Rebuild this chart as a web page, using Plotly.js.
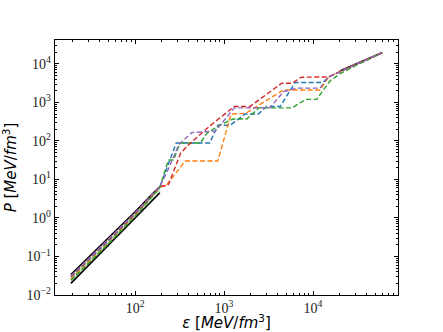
<!DOCTYPE html>
<html>
<head>
<meta charset="utf-8">
<script src="https://cdn.plot.ly/plotly-3.0.1.min.js"></script>
<style>
  html, body { margin: 0; padding: 0; background: #fff; }
  #chart { width: 443px; height: 332px; }
</style>
</head>
<body>
<div id="chart"></div>
<script>
// band edges (black solid lines, low density)
const bandEps   = [19, 30, 50, 100, 150, 190];
const bandUpper = [0.034, 0.095, 0.29, 1.45, 3.8, 6.5];
const bandLower = [0.020, 0.058, 0.19, 0.96, 2.5, 4.5];

// black line at high density
const hiEps = [20000, 30000, 45000, 60000];
const hiP   = [6500, 9800, 14700, 19700];

// dashed EoS curves
const blueEps = [19, 50, 100, 190, 290, 690, 850, 1170, 1730, 2430, 3000, 4270, 6300, 13000, 15000, 20000, 30000, 45000, 60000];
const blueP   = [0.029, 0.25, 1.25, 6.5, 88, 88, 255, 255, 500, 500, 780, 780, 3300, 3300, 4600, 6300, 9600, 14500, 19500];

const orangeEps = [19, 50, 100, 190, 230, 365, 850, 1200, 1750, 4650, 12000, 15000, 20000, 30000, 45000, 60000];
const orangeP   = [0.026, 0.22, 1.15, 6.3, 7.5, 30, 30, 500, 520, 2100, 2100, 4600, 6300, 9600, 14500, 19500];

const greenEps = [19, 50, 100, 190, 237, 270, 320, 540, 645, 900, 1260, 1800, 2450, 5800, 8300, 11000, 15500, 20000, 30000, 45000, 60000];
const greenP   = [0.024, 0.21, 1.1, 6.2, 32, 32, 88, 88, 160, 260, 370, 370, 720, 720, 1200, 1200, 3600, 5500, 9000, 14000, 19300];

const redEps = [19, 50, 100, 190, 235, 325, 400, 700, 1300, 1950, 4450, 5800, 7400, 15000, 20000, 30000, 45000, 60000];
const redP   = [0.030, 0.27, 1.3, 6.5, 7.0, 48, 80, 250, 780, 780, 3150, 3150, 4500, 4600, 6300, 9600, 14500, 19500];

const purpleEps = [19, 50, 100, 190, 240, 310, 435, 800, 1300, 3300, 4650, 6600, 12000, 14800, 20000, 30000, 45000, 60000];
const purpleP   = [0.031, 0.28, 1.35, 6.6, 20, 80, 165, 180, 720, 730, 1900, 2350, 2350, 4500, 6300, 9600, 14500, 19500];

const xTickVals = [100, 1000, 10000];
const xTickText = ["10<sup>2</sup>", "10<sup>3</sup>", "10<sup>4</sup>"];
const yTickVals = [0.01, 0.1, 1, 10, 100, 1000, 10000];
const yTickText = ["10<sup>\u22122</sup>", "10<sup>\u22121</sup>", "10<sup>0</sup>", "10<sup>1</sup>",
                   "10<sup>2</sup>", "10<sup>3</sup>", "10<sup>4</sup>"];

function minorTicks(d0, d1){
    const out = [];
    for(let d = d0; d <= d1; d++)
        for(let k = 2; k <= 9; k++)
            out.push(k * Math.pow(10, d));
    return out;
}

function dashed(x, y, color){
    return {x: x, y: y, type: "scatter", mode: "lines",
            line: {color: color, width: 1.4, dash: "5px,2.5px"}, hoverinfo: "skip"};
}

const traces = [
    {x: bandEps, y: bandLower, type: "scatter", mode: "lines",
     line: {color: "black", width: 1.6}, hoverinfo: "skip"},
    {x: bandEps, y: bandUpper, type: "scatter", mode: "lines", fill: "tonexty",
     fillcolor: "rgba(44,160,44,0.25)", line: {color: "black", width: 1.6}, hoverinfo: "skip"},
    {x: hiEps, y: hiP, type: "scatter", mode: "lines",
     line: {color: "black", width: 1.6}, hoverinfo: "skip"},
    dashed(blueEps, blueP, "#1f77b4"),
    dashed(orangeEps, orangeP, "#ff7f0e"),
    dashed(greenEps, greenP, "#2ca02c"),
    dashed(redEps, redP, "#d62728"),
    dashed(purpleEps, purpleP, "#9467bd")
];

const tickFont = {family: "Liberation Serif, DejaVu Serif, serif", size: 14, color: "#222"};
const titleFont = {family: "DejaVu Sans, sans-serif", size: 15, color: "black"};

const layout = {
    width: 443,
    height: 332,
    showlegend: false,
    paper_bgcolor: "white",
    plot_bgcolor: "white",
    margin: {l: 55, r: 45, t: 40, b: 37},
    xaxis: {
        type: "log",
        range: [1.1, 4.955],
        tickmode: "array",
        tickvals: xTickVals,
        ticktext: xTickText,
        ticks: "inside",
        ticklen: 4,
        tickcolor: "black",
        showline: true,
        linecolor: "black",
        linewidth: 1.2,
        mirror: "allticks",
        showgrid: false,
        zeroline: false,
        tickfont: tickFont,
        minor: {tickmode: "array", tickvals: minorTicks(1, 4), ticks: "inside", ticklen: 2, tickcolor: "black", showgrid: false},
        title: {text: "<i>ε</i> [<i>MeV</i>/<i>fm</i><sup>3</sup>]", font: titleFont, standoff: 6}
    },
    yaxis: {
        type: "log",
        range: [-2, 4.62],
        tickmode: "array",
        tickvals: yTickVals,
        ticktext: yTickText,
        ticks: "inside",
        ticklen: 4,
        tickcolor: "black",
        showline: true,
        linecolor: "black",
        linewidth: 1.2,
        mirror: "allticks",
        showgrid: false,
        zeroline: false,
        tickfont: tickFont,
        minor: {tickmode: "array", tickvals: minorTicks(-2, 4), ticks: "inside", ticklen: 2, tickcolor: "black", showgrid: false},
        title: {text: "<i>P</i> [<i>MeV</i>/<i>fm</i><sup>3</sup>]", font: titleFont, standoff: 6}
    }
};

Plotly.newPlot("chart", traces, layout, {staticPlot: true, displayModeBar: false});
</script>
</body>
</html>
